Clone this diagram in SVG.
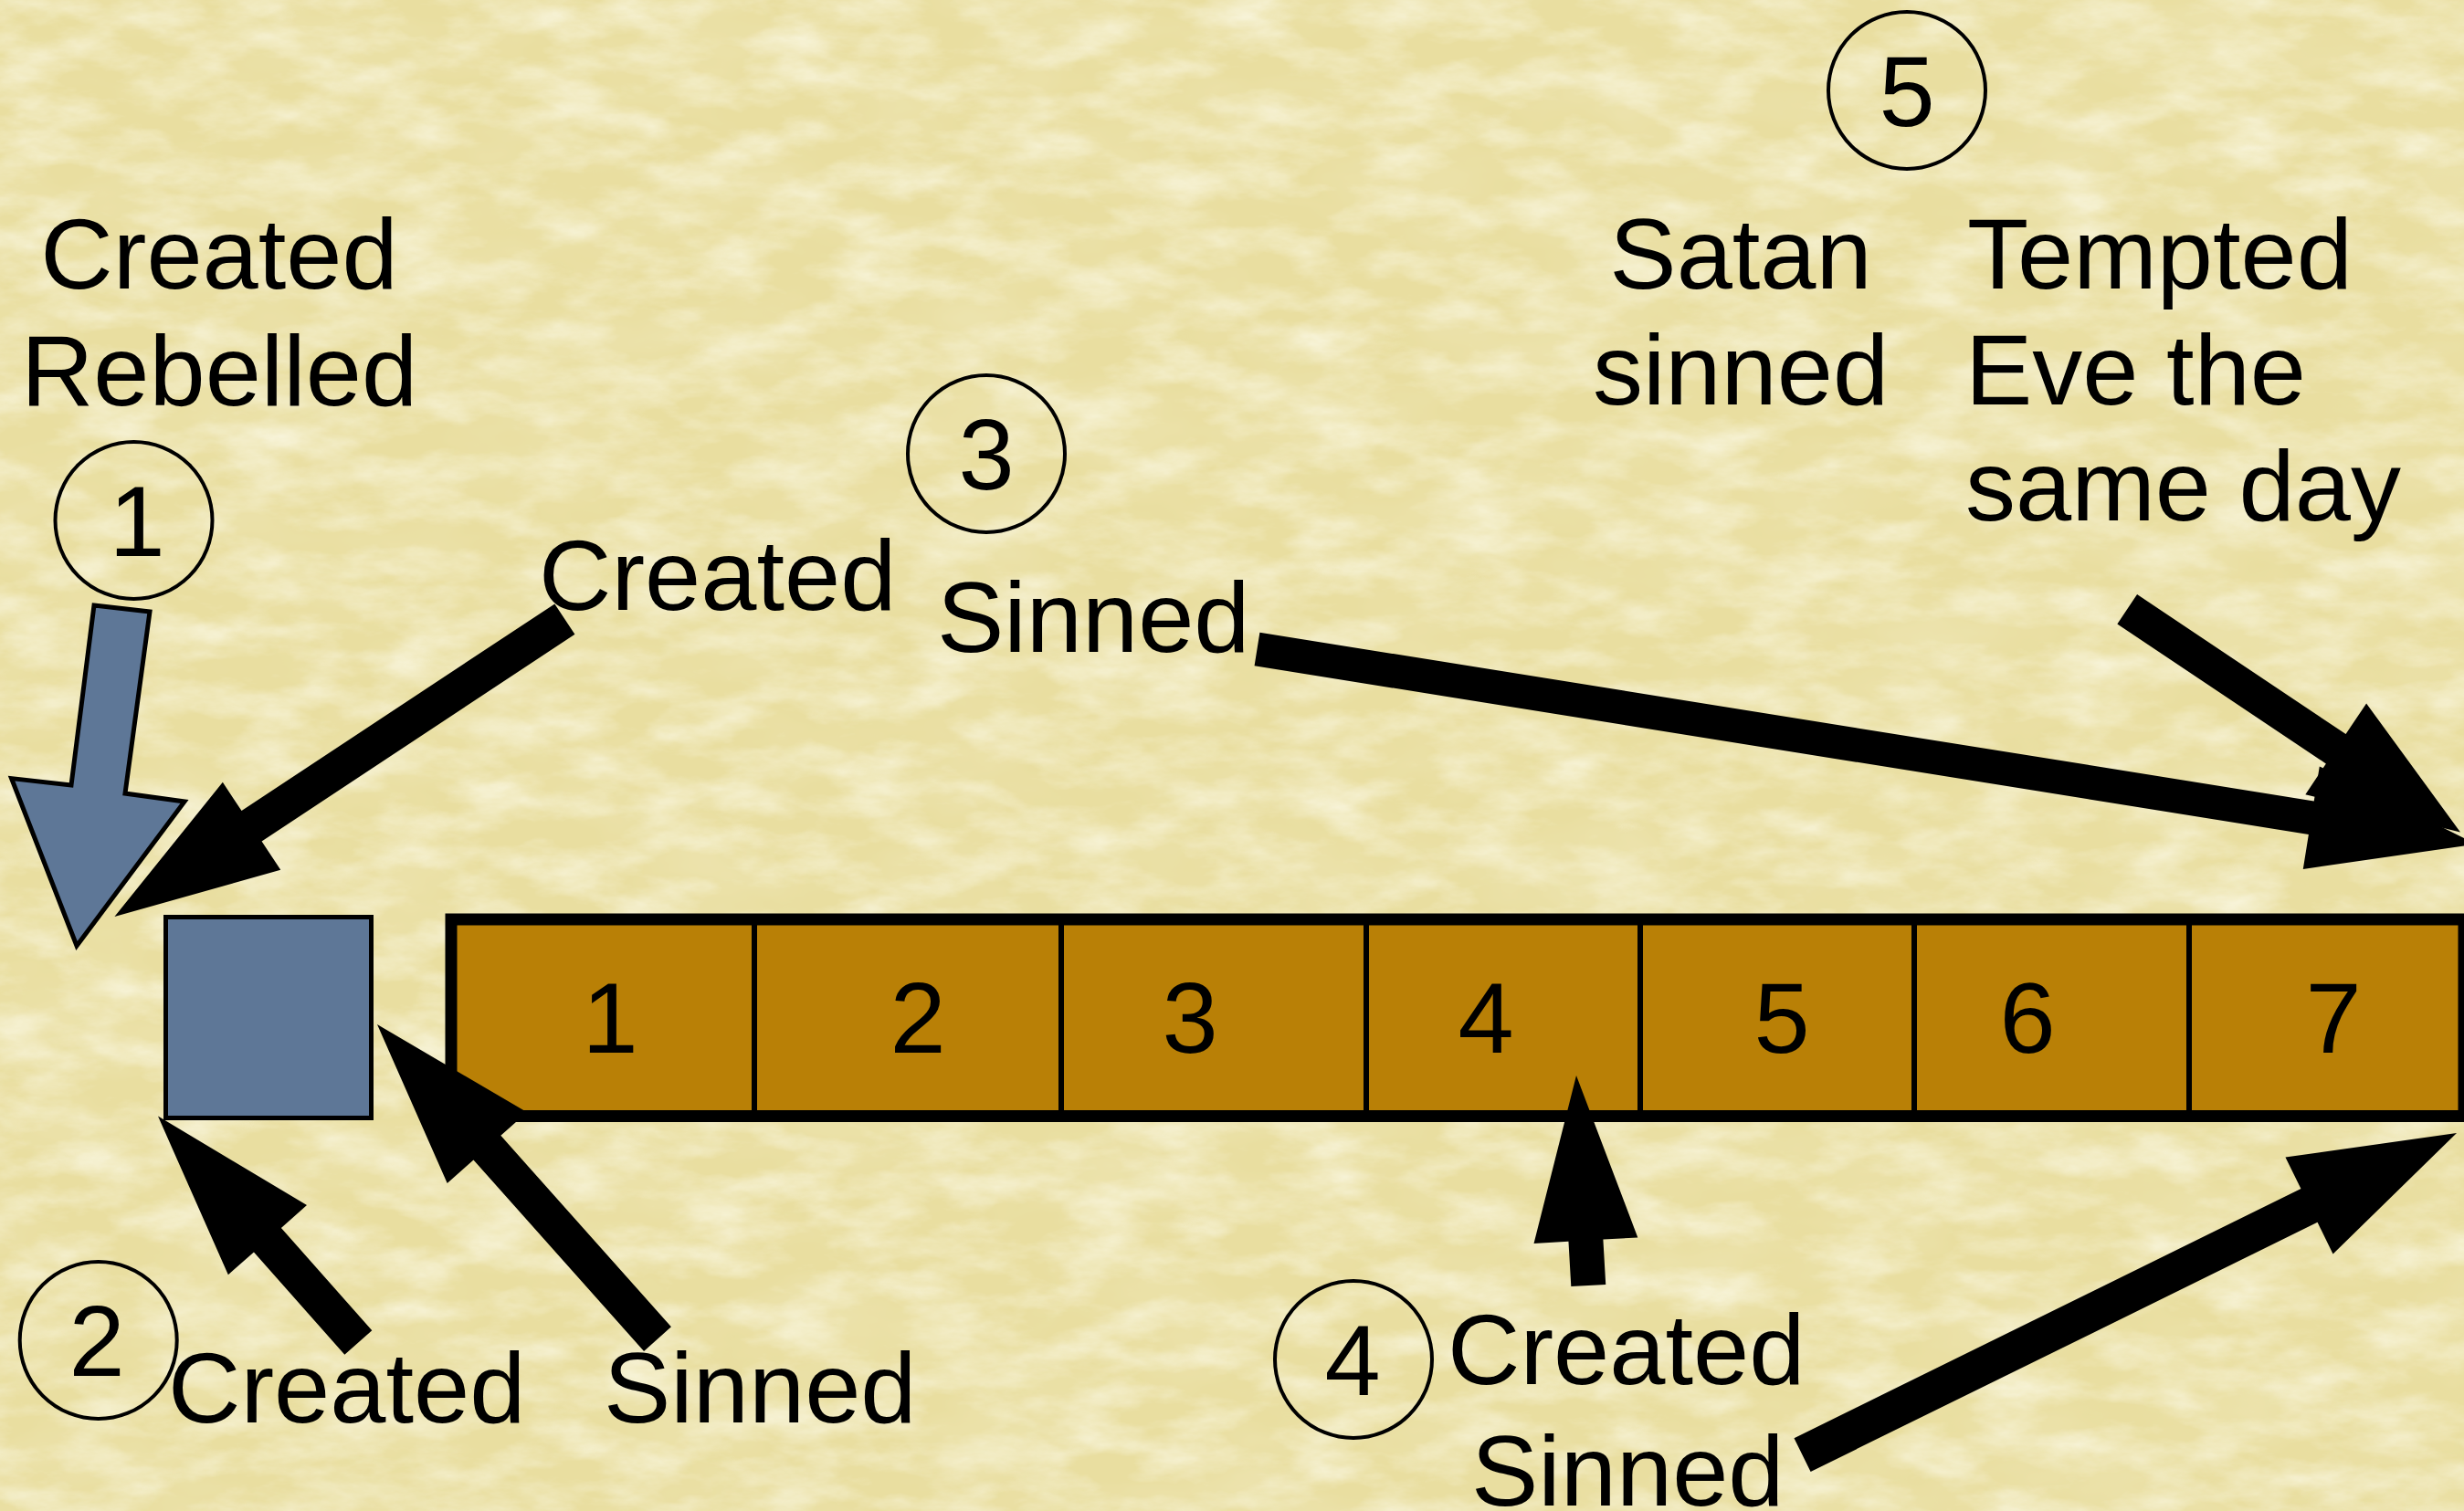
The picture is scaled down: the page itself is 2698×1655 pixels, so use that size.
<svg xmlns="http://www.w3.org/2000/svg" width="2698" height="1655" viewBox="0 0 2698 1655">
  <defs>
    <style>
      text { font-family: "Liberation Sans", Arial, sans-serif; font-size: 110px; fill: #000; }
      .mid { text-anchor: middle; }
      .ring { fill: none; stroke: #000; stroke-width: 4; }
      .arrow { fill: #000; stroke: none; }
      .blue { fill: #5e7797; stroke: #000; stroke-width: 5; stroke-linejoin: miter; }
      .div { stroke: #000; stroke-width: 6; }
    </style>
    <filter id="lightMottle" filterUnits="userSpaceOnUse" x="0" y="0" width="2698" height="1655">
      <feTurbulence type="fractalNoise" baseFrequency="0.012 0.028" numOctaves="5" seed="7"/>
      <feColorMatrix type="matrix" values="0 0 0 0 0.96  0 0 0 0 0.94  0 0 0 0 0.78  1.5 0 0 0 -0.58"/>
    </filter>
    <filter id="darkMottle" filterUnits="userSpaceOnUse" x="0" y="0" width="2698" height="1655">
      <feTurbulence type="fractalNoise" baseFrequency="0.006 0.012" numOctaves="4" seed="21"/>
      <feColorMatrix type="matrix" values="0 0 0 0 0.87  0 0 0 0 0.81  0 0 0 0 0.50  0 1.0 0 0 -0.40"/>
    </filter>
  </defs>

  <g id="background">
    <rect x="0" y="0" width="2698" height="1655" fill="#e9dea0"/>
    <rect x="0" y="0" width="2698" height="1655" filter="url(#darkMottle)"/>
    <rect x="0" y="0" width="2698" height="1655" filter="url(#lightMottle)"/>
  </g>

  <g id="node-blue-square">
    <rect x="181.5" y="1004.5" width="225" height="220" class="blue"/>
  </g>

  <g id="node-days-bar">
    <rect x="494" y="1007" width="2204" height="215.5" fill="#b98006" stroke="#000" stroke-width="13"/>
    <line class="div" x1="826" y1="1013" x2="826" y2="1217"/>
    <line class="div" x1="1162" y1="1013" x2="1162" y2="1217"/>
    <line class="div" x1="1496" y1="1013" x2="1496" y2="1217"/>
    <line class="div" x1="1796" y1="1013" x2="1796" y2="1217"/>
    <line class="div" x1="2096" y1="1013" x2="2096" y2="1217"/>
    <line class="div" x1="2397" y1="1013" x2="2397" y2="1217"/>
    <text class="mid" x="668" y="1153">1</text>
    <text class="mid" x="1005" y="1153">2</text>
    <text class="mid" x="1303" y="1153">3</text>
    <text class="mid" x="1627" y="1153">4</text>
    <text class="mid" x="1951" y="1153">5</text>
    <text class="mid" x="2220" y="1153">6</text>
    <text class="mid" x="2555" y="1153">7</text>
  </g>

  <g id="node-1">
    <text class="mid" x="240" y="316">Created</text>
    <text class="mid" x="240" y="444">Rebelled</text>
    <circle class="ring" cx="146.5" cy="570" r="86"/>
    <text class="mid" x="150" y="608.5">1</text>
  </g>

  <g id="node-2">
    <circle class="ring" cx="107.7" cy="1468" r="86"/>
    <text class="mid" x="106" y="1507">2</text>
    <text x="184" y="1558">Created</text>
    <text x="661" y="1558">Sinned</text>
  </g>

  <g id="node-3">
    <circle class="ring" cx="1080" cy="497" r="86"/>
    <text class="mid" x="1080" y="535.5">3</text>
    <text x="590" y="668">Created</text>
    <text x="1026" y="714">Sinned</text>
  </g>

  <g id="node-4">
    <circle class="ring" cx="1482" cy="1489" r="86"/>
    <text class="mid" x="1481" y="1527.5">4</text>
    <text x="1585" y="1516">Created</text>
    <text x="1611" y="1649">Sinned</text>
  </g>

  <g id="node-5">
    <circle class="ring" cx="2088" cy="99" r="86"/>
    <text class="mid" x="2088" y="137.5">5</text>
    <text class="mid" x="1906" y="316">Satan</text>
    <text class="mid" x="1906" y="443">sinned</text>
    <text x="2154" y="316">Tempted</text>
    <text x="2152" y="443">Eve the</text>
    <text x="2152" y="570">same day</text>
  </g>

  <g id="connectors">
    <polygon class="blue" points="103,663 164,670 137,869 202,878 84,1036 12.6,852.6 78,860"/>
    <polygon class="arrow" transform="translate(125.4,1004) rotate(146.53)" points="0,0 -180,-57.5 -180,-20 -591,-20 -591,20 -180,20 -180,57.5"/>
    <polygon class="arrow" transform="translate(173,1222.6) rotate(-131.5)" points="0,0 -181,-57.5 -181,-20 -331,-20 -331,20 -181,20 -181,57.5"/>
    <polygon class="arrow" transform="translate(413,1122) rotate(-131.7)" points="0,0 -181,-58.5 -181,-20 -461.5,-20 -461.5,20 -181,20 -181,58.5"/>
    <polygon class="arrow" transform="translate(1726,1178) rotate(-93.3)" points="0,0 -181,-57 -181,-19 -230.4,-19 -230.4,19 -181,19 -181,57"/>
    <polygon class="arrow" transform="translate(2690,1241) rotate(-26.2)" points="0,0 -180,-59 -180,-20.5 -798.5,-20.5 -798.5,20.5 -180,20.5 -180,59"/>
    <polygon class="arrow" transform="translate(2694,911.5) rotate(33.8)" points="0,0 -164,-60 -164,-19.5 -439,-19.5 -439,19.5 -164,19.5 -164,60"/>
    <polygon class="arrow" transform="translate(2711.5,924.6) rotate(9.09)" points="0,0 -183,-57 -183,-18.5 -1352,-18.5 -1352,18.5 -183,18.5 -183,57"/>
  </g>
</svg>
